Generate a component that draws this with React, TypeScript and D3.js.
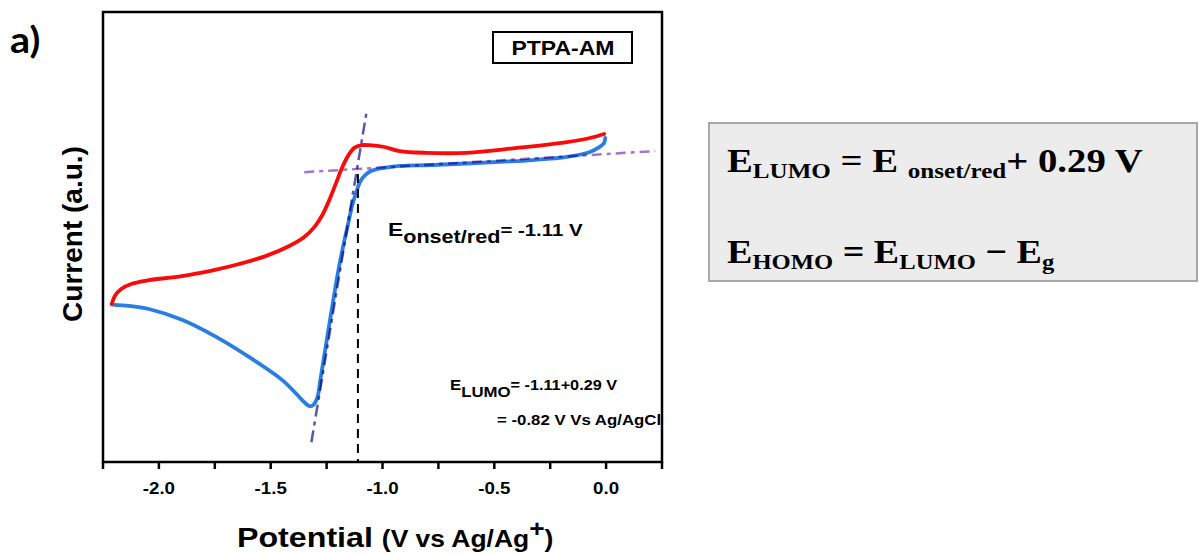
import React from 'react';
import * as d3 from 'd3';

// potential (V) / current (a.u.)
const reverseScan: [number, number][] = [
  [-2.211, 35.1], [-2.197, 36.9], [-2.170, 38.4], [-2.121, 39.6], [-2.045, 40.4],
  [-1.897, 41.3], [-1.749, 42.7], [-1.641, 44.0], [-1.520, 45.8], [-1.417, 48.0],
  [-1.350, 50.0], [-1.305, 52.2], [-1.269, 54.9], [-1.238, 58.2], [-1.206, 62.2],
  [-1.179, 65.6], [-1.152, 68.2], [-1.126, 69.8], [-1.094, 70.4], [-1.058, 70.4],
  [-0.991, 70.0], [-0.924, 69.1], [-0.803, 68.7], [-0.623, 68.7], [-0.399, 69.8],
  [-0.175, 71.1], [-0.072, 72.0], [-0.009, 72.9],
];

const forwardScan: [number, number][] = [
  [-0.004, 72.0], [-0.009, 70.9], [-0.036, 69.8], [-0.072, 68.9], [-0.175, 67.8],
  [-0.327, 67.1], [-0.475, 66.7], [-0.776, 66.0], [-0.924, 65.8], [-1.000, 65.3],
  [-1.049, 64.7], [-1.076, 63.8], [-1.099, 62.4], [-1.117, 60.0], [-1.135, 57.1],
  [-1.152, 53.3], [-1.175, 48.2], [-1.197, 42.7], [-1.220, 36.0], [-1.242, 29.3],
  [-1.260, 23.8], [-1.278, 18.2], [-1.291, 14.4], [-1.309, 12.7], [-1.327, 12.4],
  [-1.350, 13.3], [-1.381, 14.9], [-1.448, 18.2], [-1.596, 23.3], [-1.744, 27.8],
  [-1.897, 31.6], [-2.045, 34.0], [-2.135, 34.7], [-2.202, 34.9],
];

const tangentLine: [number, number][] = [[-1.318, 4.4], [-1.072, 77.6]];
const baseLine: [number, number][] = [[-1.35, 64.4], [0.22, 69.1]];
const onsetV = -1.11;
const onsetI = 64;

const majorTicks = [-2.0, -1.5, -1.0, -0.5, 0.0];
const minorTicks = [-2.25, -1.75, -1.25, -0.75, -0.25, 0.25];

const sans = '"Liberation Sans", Arial, sans-serif';
const serif = '"Liberation Serif", "Times New Roman", serif';

// the source figure is a bit stretched sideways, so text gets a horizontal scale
function Wide({ x, y, sx, children }: { x: number; y: number; sx: number; children: React.ReactNode }) {
  return <g transform={`translate(${x},${y}) scale(${sx},1)`}>{children}</g>;
}

export default function App() {
  const width = 1199;
  const height = 554;
  const margin = { top: 12, left: 103, right: 537, bottom: 92 };
  const x0 = margin.left;
  const x1 = width - margin.right;
  const y0 = height - margin.bottom;
  const y1 = margin.top;

  const x = d3.scaleLinear().domain([-2.25, 0.25]).range([x0, x1]);
  const y = d3.scaleLinear().domain([0, 100]).range([y0, y1]);

  const curve = d3.line<[number, number]>()
    .x(d => x(d[0]))
    .y(d => y(d[1]))
    .curve(d3.curveCatmullRom.alpha(0.5));
  const straight = d3.line<[number, number]>().x(d => x(d[0])).y(d => y(d[1]));

  return (
    <div style={{ position: 'absolute', left: 0, top: 0 }}>
      <svg width={width} height={height} style={{ display: 'block', background: '#fff' }}>
        <defs>
          <clipPath id="plot-clip">
            <rect x={x0} y={y1} width={x1 - x0} height={y0 - y1} />
          </clipPath>
        </defs>

        <Wide x={10} y={53} sx={1.1}>
          <text fontFamily="Lato, sans-serif" fontWeight="bold" fontSize={36}>a)</text>
        </Wide>

        {/* traces */}
        <g clipPath="url(#plot-clip)">
          <path d={curve(forwardScan) || ''} fill="none" stroke="#2a7de1" strokeWidth={3.8} strokeLinecap="round" />
          <path d={curve(reverseScan) || ''} fill="none" stroke="#fb0a0a" strokeWidth={3.8} strokeLinecap="round" />
          <path d={straight(tangentLine) || ''} fill="none" stroke="#5a58aa" strokeWidth={2.5}
            strokeDasharray="12,5,4,5" style={{ mixBlendMode: 'multiply' }} />
          <path d={straight(baseLine) || ''} fill="none" stroke="#a872c8" strokeWidth={2.5}
            strokeDasharray="10,5,4,5" style={{ mixBlendMode: 'multiply' }} />
          <line x1={x(onsetV)} x2={x(onsetV)} y1={y(onsetI)} y2={y0} stroke="#000" strokeWidth={2} strokeDasharray="9,6" />
        </g>

        {/* annotations */}
        <rect x={493} y={32} width={139} height={31} fill="#fff" stroke="#000" strokeWidth={2} />
        <Wide x={563} y={55} sx={1.15}>
          <text textAnchor="middle" fontFamily={sans} fontWeight="bold" fontSize={20}>PTPA-AM</text>
        </Wide>

        <Wide x={388} y={236} sx={1.2}>
          <text fontFamily={sans} fontWeight="bold" fontSize={19}>
            E<tspan fontSize={18} dy={7}>onset/red</tspan><tspan fontSize={17} dy={-7}>= -1.11 V</tspan>
          </text>
        </Wide>

        <g clipPath="url(#plot-clip)">
          <Wide x={450} y={390} sx={1.12}>
            <text fontFamily={sans} fontWeight="bold" fontSize={15}>
              E<tspan fontSize={15} dy={7}>LUMO</tspan><tspan fontSize={14.5} dy={-7}>= -1.11+0.29 V</tspan>
            </text>
          </Wide>
          <Wide x={497} y={425} sx={1.2}>
            <text fontFamily={sans} fontWeight="bold" fontSize={14}>= -0.82 V Vs Ag/AgCl</text>
          </Wide>
        </g>

        {/* frame and ticks */}
        <rect x={x0} y={y1} width={x1 - x0} height={y0 - y1} fill="none" stroke="#000" strokeWidth={2.5} />
        {majorTicks.concat(minorTicks).map(t => (
          <line key={t} x1={x(t)} x2={x(t)} y1={y0} y2={y0 + 7} stroke="#000" strokeWidth={2.5} />
        ))}
        {majorTicks.map(t => (
          <Wide key={t} x={x(t)} y={494} sx={1.1}>
            <text textAnchor="middle" fontFamily={sans} fontWeight="bold" fontSize={17}>
              {d3.format('.1f')(t).replace('−', '-')}
            </text>
          </Wide>
        ))}

        <Wide x={237} y={547} sx={1.15}>
          <text fontFamily={sans} fontWeight="bold" fontSize={28}>
            Potential <tspan fontSize={23}>(V vs Ag/Ag</tspan><tspan fontSize={23} dy={-10}>+</tspan><tspan fontSize={23} dy={10}>)</tspan>
          </text>
        </Wide>
        <text transform="translate(82,234) rotate(-90)" textAnchor="middle" fontFamily={sans} fontWeight="bold" fontSize={28}>
          Current (a.u.)
        </text>

        {/* equation box */}
        <rect x={709} y={123} width={488} height={158} fill="#ececec" stroke="#a8a8a8" strokeWidth={2} />
        <Wide x={727} y={172} sx={1.14}>
          <text fontFamily={serif} fontWeight="bold" fontSize={34}>
            E<tspan fontSize={22} dy={6}>LUMO</tspan><tspan dy={-6}> = E </tspan><tspan fontSize={22} dy={6}>onset/red</tspan><tspan dy={-6}>+ 0.29 V</tspan>
          </text>
        </Wide>
        <Wide x={727} y={263} sx={1.12}>
          <text fontFamily={serif} fontWeight="bold" fontSize={34}>
            E<tspan fontSize={22} dy={6}>HOMO</tspan><tspan dy={-6}> = E</tspan><tspan fontSize={22} dy={6}>LUMO</tspan><tspan dy={-6}>  − E</tspan><tspan fontSize={22} dy={6}>g</tspan>
          </text>
        </Wide>
      </svg>
    </div>
  );
}
